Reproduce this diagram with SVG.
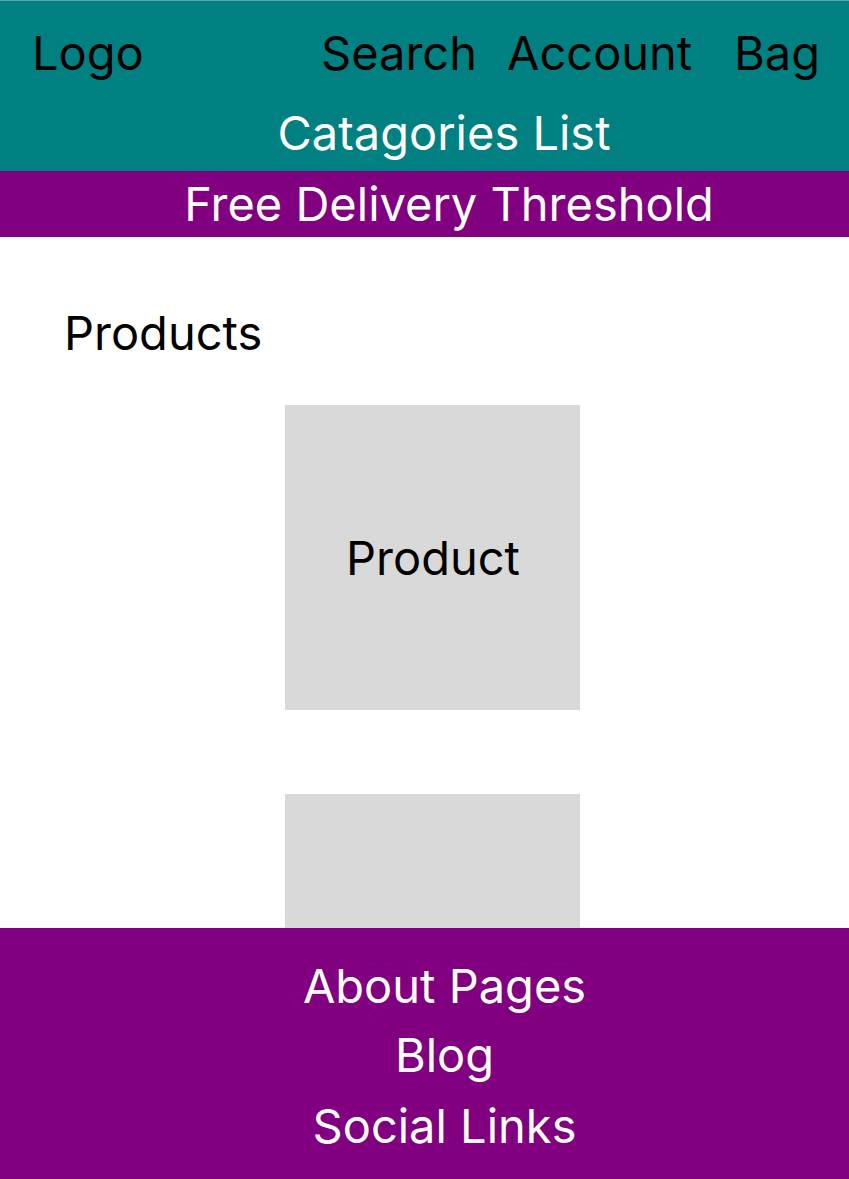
<svg xmlns="http://www.w3.org/2000/svg" width="849" height="1179" viewBox="0 0 849 1179">
  <style>
    text { font-family: Inter, "Noto Sans", "Liberation Sans", sans-serif; font-size: 47px; }
    .dark { fill: #000000; }
    .light { fill: #ffffff; }
    .mid { text-anchor: middle; }
    .teal { fill: #008080; }
    .purple { fill: #800080; }
    .card { fill: #d9d9d9; }
  </style>
  <rect x="0" y="0" width="849" height="1179" fill="#ffffff"/>

  <!-- Header bar -->
  <g id="header">
    <rect class="teal" x="0" y="0" width="849" height="171"/>
    <line x1="0" y1="0.5" x2="849" y2="0.5" stroke="#5aa8a8" stroke-width="1"/>
    <text class="dark" x="32" y="70">Logo</text>
    <text class="dark" x="321" y="70">Search</text>
    <text class="dark" x="507" y="70">Account</text>
    <text class="dark" x="734" y="70">Bag</text>
    <text class="light mid" x="444" y="150">Catagories List</text>
  </g>

  <!-- Delivery banner -->
  <g id="delivery-banner">
    <rect class="purple" x="0" y="171" width="849" height="66"/>
    <text class="light mid" x="449" y="221">Free Delivery Threshold</text>
  </g>

  <!-- Product listing -->
  <g id="products-heading">
    <text class="dark" x="64" y="350">Products</text>
  </g>
  <g id="product-card-1">
    <rect class="card" x="285" y="405" width="295" height="305"/>
    <text class="dark mid" x="433" y="575">Product</text>
  </g>
  <g id="product-card-2">
    <rect class="card" x="285" y="794" width="295" height="134"/>
  </g>

  <!-- Footer -->
  <g id="footer">
    <rect class="purple" x="0" y="928" width="849" height="251"/>
    <text class="light mid" x="444.5" y="1003">About Pages</text>
    <text class="light mid" x="444.5" y="1072">Blog</text>
    <text class="light mid" x="444.5" y="1143">Social Links</text>
  </g>

  <g id="connectors"/>
</svg>
